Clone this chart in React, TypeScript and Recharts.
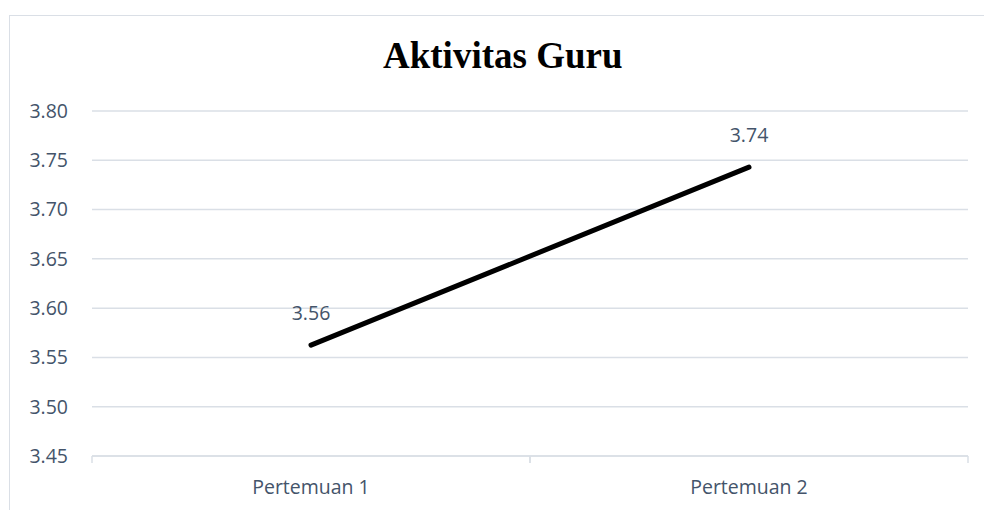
import { LineChart, Line, XAxis, YAxis, CartesianGrid, LabelList } from "recharts";

const meetings = ["Pertemuan 1", "Pertemuan 2"];
const teacherScores = [3.5625, 3.743];
const yTicks = [3.45, 3.5, 3.55, 3.6, 3.65, 3.7, 3.75, 3.8];

const data = meetings.map((name, i) => ({ name, value: teacherScores[i] }));

const TEXT = "#44546a";
const GRID = "#dadfe6";
const FONT = "'Open Sans', sans-serif";
const X_MARGIN = 24;

// category label plus the small tick marks on the band edges
function CategoryTick(props: any) {
  const { x, y, payload } = props;
  const half = payload?.offset ?? 0;
  const axisY = y - X_MARGIN;
  return (
    <g>
      {half > 0 && (
        <>
          <line x1={x - half} x2={x - half} y1={axisY} y2={axisY + 7} stroke={GRID} strokeWidth={1.5} />
          <line x1={x + half} x2={x + half} y1={axisY} y2={axisY + 7} stroke={GRID} strokeWidth={1.5} />
        </>
      )}
      <text x={x} y={y} dy="0.71em" textAnchor="middle" fill={TEXT} fontSize={19.5} fontFamily={FONT}>
        {payload.value}
      </text>
    </g>
  );
}

export default function App() {
  return (
    <div
      style={{
        position: "absolute",
        left: 0,
        top: 0,
        width: 984,
        height: 510,
        overflow: "hidden",
        background: "#fff",
      }}
    >
      <div
        style={{
          position: "absolute",
          left: 9,
          top: 15,
          width: 1000,
          height: 600,
          borderTop: `1px solid ${GRID}`,
          borderLeft: `1px solid ${GRID}`,
        }}
      />
      <div
        style={{
          position: "absolute",
          left: 383,
          top: 37,
          fontFamily: "'Liberation Serif', 'Times New Roman', serif",
          fontWeight: "bold",
          fontSize: 37,
          lineHeight: 1,
          color: "#000",
          whiteSpace: "nowrap",
        }}
      >
        Aktivitas Guru
      </div>
      <LineChart
        width={984}
        height={510}
        data={data}
        margin={{ top: 111, right: 16, bottom: 0, left: 0 }}
        style={{ position: "absolute", left: 0, top: 0 }}
      >
        <CartesianGrid vertical={false} stroke={GRID} strokeWidth={1.5} />
        <XAxis
          dataKey="name"
          scale="band"
          height={54}
          interval={0}
          tickLine={false}
          tickSize={0}
          tickMargin={X_MARGIN}
          axisLine={{ stroke: GRID, strokeWidth: 1.5 }}
          tick={<CategoryTick />}
        />
        <YAxis
          width={92}
          domain={[3.45, 3.8]}
          ticks={yTicks}
          interval={0}
          tickFormatter={(v: number) => v.toFixed(2)}
          axisLine={false}
          tickLine={false}
          tickSize={0}
          tickMargin={24}
          tick={{ fill: TEXT, fontSize: 19.5, fontFamily: FONT }}
        />
        <Line
          type="linear"
          dataKey="value"
          stroke="#000"
          strokeWidth={5}
          strokeLinecap="round"
          dot={false}
          activeDot={false}
          isAnimationActive={false}
        >
          <LabelList
            dataKey="value"
            position="top"
            offset={25}
            formatter={(v: number) => v.toFixed(2)}
            style={{ fill: TEXT, fontSize: 19.5, fontFamily: FONT }}
          />
        </Line>
      </LineChart>
    </div>
  );
}
